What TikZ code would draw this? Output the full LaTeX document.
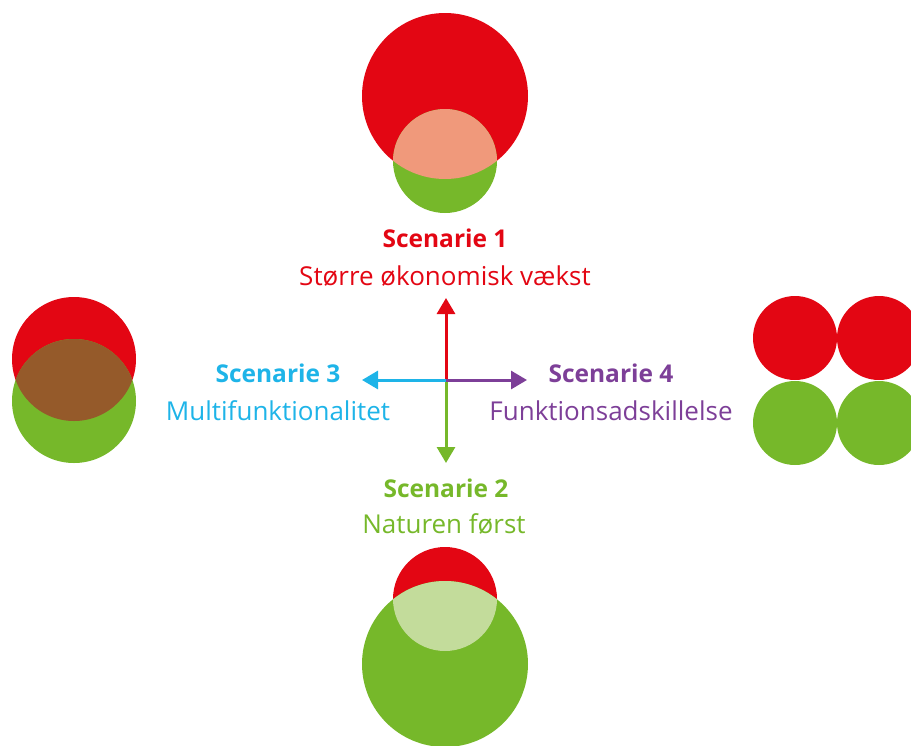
\documentclass[tikz,border=0pt]{standalone}
\usepackage{fontspec}
\setmainfont{Open Sans}
\usetikzlibrary{arrows.meta,positioning}

\definecolor{scred}{HTML}{E30613}
\definecolor{scgreen}{HTML}{76B82A}
\definecolor{sccyan}{HTML}{1EB4E8}
\definecolor{scpurple}{HTML}{7D3F98}
\definecolor{scsalmon}{HTML}{F0997B}
\definecolor{scbrown}{HTML}{955A2A}
\definecolor{sclight}{HTML}{C3DC9B}

\begin{document}
\begin{tikzpicture}[x=1pt,y=-1pt,
    title/.style={anchor=base, font=\fontsize{24.5}{28}\selectfont\bfseries},
    desc/.style={anchor=base, font=\fontsize{26}{30}\selectfont},
    axis/.style={line width=3pt, -{Triangle[length=16pt,width=18pt]}}]

    \useasboundingbox (0,0) rectangle (911,745);

    % Scenarie 1
    \fill[scred] (445,96) circle (83pt);
    \fill[scgreen] (445,161) circle (52pt);
    \begin{scope}
        \clip (445,96) circle (83pt);
        \fill[scsalmon] (445,161) circle (52pt);
    \end{scope}

    % Scenarie 2
    \fill[scred] (445,599) circle (52pt);
    \fill[scgreen] (445,664) circle (83pt);
    \begin{scope}
        \clip (445,664) circle (83pt);
        \fill[sclight] (445,599) circle (52pt);
    \end{scope}

    % Scenarie 3
    \fill[scred] (74,359) circle (62pt);
    \fill[scgreen] (74,401) circle (62pt);
    \begin{scope}
        \clip (74,359) circle (62pt);
        \fill[scbrown] (74,401) circle (62pt);
    \end{scope}

    % Scenarie 4
    \foreach \x in {795,879} {
        \fill[scred] (\x,338) circle (42pt);
        \fill[scgreen] (\x,423) circle (42pt);
    }

    % Akser
    \coordinate (o) at (446,380);
    \coordinate (n) at (446,298);
    \coordinate (s) at (446,463);
    \coordinate (w) at (362,380);
    \coordinate (e) at (527,380);
    \draw[axis, scred] (o) -- (n);
    \draw[axis, scgreen] (o) -- (s);
    \draw[axis, sccyan] (o) -- (w);
    \draw[axis, scpurple] (o) -- (e);

    % Tekster
    \node[title, scred] (s1) at (445,247) {Scenarie 1};
    \node[desc, scred] (d1) at (445,285) {Større økonomisk vækst};
    \node[title, scgreen] (s2) at (446,497) {Scenarie 2};
    \node[desc, scgreen] (d2) at (444,533) {Naturen først};
    \node[title, sccyan] (s3) at (278,382) {Scenarie 3};
    \node[desc, sccyan] (d3) at (278,420) {Multifunktionalitet};
    \node[title, scpurple] (s4) at (611,382) {Scenarie 4};
    \node[desc, scpurple] (d4) at (611,420) {Funktionsadskillelse};

\end{tikzpicture}
\end{document}
